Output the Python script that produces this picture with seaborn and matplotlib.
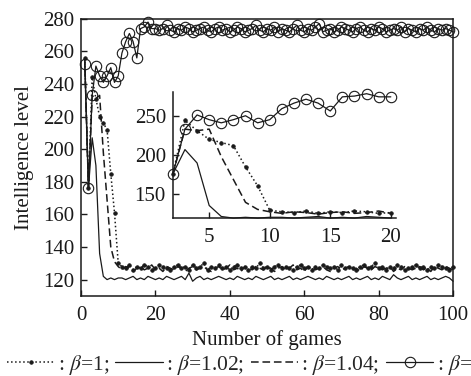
import numpy as np
import pandas as pd
import matplotlib
matplotlib.use("Agg")
import matplotlib.pyplot as plt
import seaborn as sns

games = list(range(1, 101))

beta_1 = [256, 176, 244, 231, 220, 216, 212, 185, 161, 130,
          128, 127, 129, 126, 128, 127, 129, 128, 126, 127,
          129, 128, 127, 126, 128, 129, 127, 128, 126, 129,
          127, 128, 130, 126, 128, 127, 129, 127, 128, 126,
          128, 129, 127, 128, 126, 128, 127, 130, 127, 128,
          126, 128, 129, 127, 128, 127, 126, 128, 129, 127,
          128, 126, 128, 127, 129, 128, 127, 128, 126, 129,
          127, 128, 127, 126, 128, 129, 127, 128, 130, 127,
          128, 126, 128, 127, 129, 128, 126, 127, 128, 129,
          127, 128, 126, 128, 127, 129, 128, 127, 126, 128]

beta_102 = [256, 176, 207, 190, 136, 122, 120, 121, 120, 121,
            121, 120, 121, 122, 120, 121, 120, 122, 121, 120,
            121, 120, 122, 121, 120, 121, 122, 120, 124, 119,
            121, 122, 120, 121, 120, 121, 122, 121, 120, 121,
            120, 122, 121, 120, 121, 120, 122, 121, 120, 121,
            122, 120, 121, 120, 121, 122, 120, 121, 120, 121,
            122, 121, 120, 121, 120, 122, 121, 120, 121, 120,
            121, 122, 120, 121, 120, 121, 122, 120, 121, 120,
            122, 121, 120, 123, 121, 120, 121, 122, 120, 121,
            120, 121, 122, 120, 121, 120, 121, 122, 121, 119]

beta_104 = [256, 176, 233, 231, 233, 198, 169, 140, 131, 128,
            126, 128, 127, 125, 127, 128, 126, 127, 129, 126,
            127, 125, 128, 127, 126, 128, 127, 125, 127, 128,
            126, 127, 128, 126, 125, 127, 128, 126, 127, 129,
            126, 127, 125, 128, 127, 126, 128, 127, 126, 128,
            127, 125, 127, 128, 126, 127, 129, 126, 127, 125,
            128, 127, 126, 127, 128, 126, 125, 127, 128, 126,
            127, 128, 126, 127, 125, 128, 127, 126, 128, 127,
            126, 127, 128, 125, 127, 126, 128, 127, 126, 127,
            128, 126, 127, 125, 128, 127, 126, 128, 127, 126]

beta_106 = [252, 176, 233, 251, 245, 241, 245, 250, 241, 245,
            259, 266, 271, 266, 256, 274, 275, 278, 274, 274,
            273, 274, 276, 273, 272, 274, 273, 275, 274, 272,
            273, 274, 275, 273, 272, 274, 275, 273, 274, 272,
            273, 275, 274, 272, 273, 274, 276, 273, 272, 274,
            273, 275, 272, 274, 273, 272, 274, 276, 273, 272,
            274, 273, 275, 277, 272, 273, 274, 272, 273, 275,
            274, 273, 272, 274, 275, 273, 272, 274, 273, 275,
            274, 272, 273, 274, 273, 275, 272, 274, 273, 272,
            274, 273, 275, 273, 272, 274, 273, 274, 273, 272]

labels = [r": $\beta$=1;", r": $\beta$=1.02;", r": $\beta$=1.04;", r": $\beta$=1.06"]

sns.set_theme(style="ticks")
plt.rcParams["font.family"] = ["Liberation Serif", "DejaVu Serif"]
plt.rcParams["mathtext.fontset"] = "stix"
plt.rcParams["axes.linewidth"] = 1.1

df = pd.DataFrame({"game": games, "b1": beta_1, "b102": beta_102,
                   "b104": beta_104, "b106": beta_106})

styles = [
    dict(linestyle=":", linewidth=1.1, marker="o", markersize=2.6,
         markerfacecolor="k", markeredgecolor="k", markeredgewidth=0.5),
    dict(linestyle="-", linewidth=0.9),
    dict(linestyle=(0, (5, 2.5)), linewidth=1.1),
    dict(linestyle="-", linewidth=0.9, marker="o", markersize=7.5,
         markerfacecolor="none", markeredgecolor="k", markeredgewidth=0.8),
]
cols = ["b1", "b102", "b104", "b106"]

FS = 15

fig = plt.figure(figsize=(4.71, 3.76), dpi=100)
ax = fig.add_axes([0.172, 0.213, 0.79, 0.737])

for c, st, lab in zip(cols, styles, labels):
    sns.lineplot(data=df, x="game", y=c, ax=ax, color="k", legend=False,
                 label=lab, clip_on=False, **st)

ax.set_xlim(0, 100)
ax.set_ylim(110, 280)
ax.set_xticks([0, 20, 40, 60, 80, 100])
ax.set_yticks(list(range(120, 281, 20)))
ax.tick_params(direction="in", length=4, width=1, labelsize=FS, colors="k",
               top=False, right=False, pad=5)
ax.tick_params(axis="x", pad=7)
for s in ax.spines.values():
    s.set_color("k")
ax.set_xlabel("Number of games", fontsize=FS, labelpad=4, color="k")
ax.set_ylabel("Intelligence level", fontsize=FS, labelpad=6, color="k")

# inset
ins = fig.add_axes([0.367, 0.42, 0.473, 0.335])
sub = df[(df["game"] >= 2) & (df["game"] <= 20)]
for c, st in zip(cols, styles):
    sns.lineplot(data=sub, x="game", y=c, ax=ins, color="k", legend=False,
                 clip_on=False, **st)
ins.set_xlim(2, 20.4)
ins.set_ylim(120, 280)
ins.set_xticks([5, 10, 15, 20])
ins.set_yticks([150, 200, 250])
ins.set_xlabel("")
ins.set_ylabel("")
ins.patch.set_alpha(0)
ins.spines["top"].set_visible(False)
ins.spines["right"].set_visible(False)
for s in ins.spines.values():
    s.set_color("k")
ins.tick_params(direction="in", length=4, width=1, labelsize=FS, colors="k",
                pad=5)
ins.tick_params(axis="x", pad=7)

handles = ax.get_lines()[:4]
fig.legend(handles, labels, loc="center left", bbox_to_anchor=(0.015, 0.03),
           ncol=4, frameon=False, handlelength=2.2, handletextpad=0.15,
           columnspacing=0.3, borderaxespad=0, borderpad=0, numpoints=1,
           fontsize=15.5)

fig.savefig("out.png", dpi=100)
